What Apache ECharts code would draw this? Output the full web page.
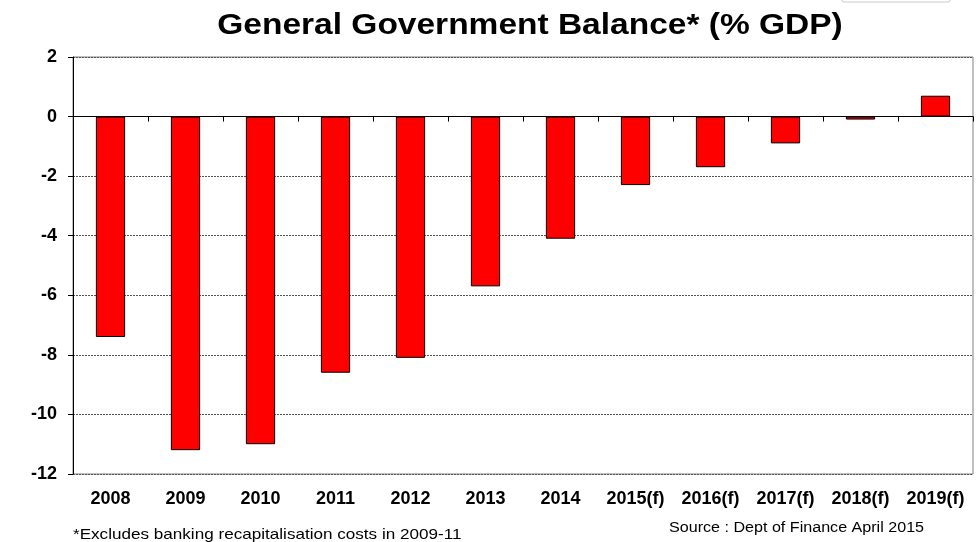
<!DOCTYPE html>
<html>
<head>
<meta charset="utf-8">
<script src="https://cdn.jsdelivr.net/npm/echarts@6/dist/echarts.min.js"></script>
<style>
  html, body { margin: 0; padding: 0; background: #fff; }
  #chart { width: 980px; height: 542px; }
</style>
</head>
<body>
<div id="chart"></div>
<script>
// General government balance, % of GDP (forecast years marked (f))
const categories = ['2008', '2009', '2010', '2011', '2012', '2013', '2014',
                    '2015(f)', '2016(f)', '2017(f)', '2018(f)', '2019(f)'];
const balance = [-7.4, -11.2, -11.0, -8.6, -8.1, -5.7, -4.1, -2.3, -1.7, -0.9, -0.1, 0.7];
const yTicks = { min: -12, max: 2, step: 2 };

const FONT = 'Arial, "Liberation Sans", Helvetica, sans-serif';

const chart = echarts.init(document.getElementById('chart'), null, { renderer: 'canvas' });

chart.setOption({
  backgroundColor: '#ffffff',
  animation: false,
  grid: {
    left: 73, right: 7, top: 57, bottom: 68,
    show: true,
    borderColor: '#808080',
    borderWidth: 1
  },
  xAxis: [
    {
      // zero line with boundary ticks
      type: 'category',
      data: categories,
      position: 'bottom',
      axisLine: { onZero: true, lineStyle: { color: '#000', width: 1 } },
      axisTick: { show: true, inside: false, length: 5, alignWithLabel: false,
                  lineStyle: { color: '#000' } },
      axisLabel: { show: false },
      splitLine: { show: false }
    },
    {
      // category labels along the bottom edge
      type: 'category',
      data: categories,
      position: 'bottom',
      axisLine: { show: false, onZero: false },
      axisTick: { show: false },
      axisLabel: {
        show: true, margin: 16, interval: 0,
        fontFamily: FONT, fontSize: 18, fontWeight: 'bold', color: '#000'
      },
      splitLine: { show: false }
    }
  ],
  yAxis: {
    type: 'value',
    min: yTicks.min,
    max: yTicks.max,
    interval: yTicks.step,
    axisLine: { show: true, lineStyle: { color: '#000', width: 1 } },
    axisTick: { show: true, length: 5, lineStyle: { color: '#000' } },
    axisLabel: {
      margin: 16,
      fontFamily: FONT, fontSize: 18, fontWeight: 'bold', color: '#000'
    },
    splitLine: { show: true, lineStyle: { color: '#555', width: 1, type: [2, 1] } }
  },
  series: [{
    type: 'bar',
    xAxisIndex: 0,
    data: balance,
    barWidth: '39%',
    itemStyle: { color: '#ff0000', borderColor: '#000', borderWidth: 1 }
  }],
  graphic: [
    {
      // chart title, slightly widened lettering
      type: 'text',
      x: 530,
      y: 11,
      scaleX: 1.155,
      style: {
        text: 'General Government Balance* (% GDP)',
        font: 'bold 29px ' + FONT,
        fill: '#000',
        textAlign: 'center',
        textVerticalAlign: 'top'
      }
    },
    {
      type: 'text',
      x: 73,
      y: 527,
      scaleX: 1.14,
      style: {
        text: '*Excludes banking recapitalisation costs in 2009-11',
        font: '15px ' + FONT,
        fill: '#000',
        textVerticalAlign: 'top'
      }
    },
    {
      type: 'text',
      x: 669,
      y: 521,
      scaleX: 1.15,
      style: {
        text: 'Source : Dept of Finance April 2015',
        font: '14px ' + FONT,
        fill: '#000',
        textVerticalAlign: 'top'
      }
    },
    {
      type: 'rect',
      shape: { x: 842, y: -20, width: 108, height: 22, r: 2 },
      style: { fill: '#fff', stroke: '#c8c8c8', lineWidth: 1 }
    }
  ]
});
</script>
</body>
</html>
